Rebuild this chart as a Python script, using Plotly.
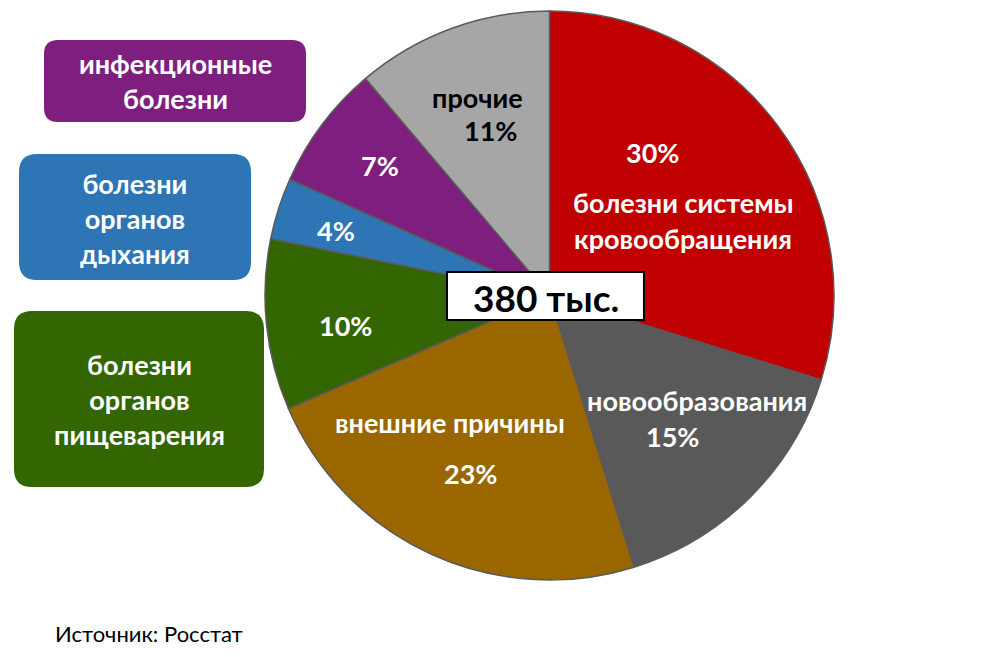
import plotly.graph_objects as go

# структура смертности
categories = ['болезни системы кровообращения', 'новообразования', 'внешние причины',
              'болезни органов пищеварения', 'болезни органов дыхания',
              'инфекционные болезни', 'прочие']
shares = [29.8, 15.4, 23.3, 9.7, 3.5, 7.1, 11.2]
pct = ['30%', '15%', '23%', '10%', '4%', '7%', '11%']
colors = ['#C00000', '#595959', '#996600', '#336600', '#2E75B6', '#7E1E7E', '#A6A6A6']
total_label = '380 тыс.'
source = 'Источник: Росстат'

W, H = 1004, 657
OFF = 8  # отступ body страницы


def px(x):
    return (x - OFF) / W


def py(y):
    return 1 - (y - OFF) / H


def rounded_box(x0, y0, x1, y1, r):
    # прямоугольник со скруглёнными углами в координатах paper
    p = [
        f'M {px(x0 + r)} {py(y0)}',
        f'L {px(x1 - r)} {py(y0)}',
        f'Q {px(x1)} {py(y0)} {px(x1)} {py(y0 + r)}',
        f'L {px(x1)} {py(y1 - r)}',
        f'Q {px(x1)} {py(y1)} {px(x1 - r)} {py(y1)}',
        f'L {px(x0 + r)} {py(y1)}',
        f'Q {px(x0)} {py(y1)} {px(x0)} {py(y1 - r)}',
        f'L {px(x0)} {py(y0 + r)}',
        f'Q {px(x0)} {py(y0)} {px(x0 + r)} {py(y0)}',
        'Z',
    ]
    return ' '.join(p)


fig = go.Figure()

fig.add_trace(go.Pie(
    labels=categories, values=shares, sort=False, direction='clockwise', rotation=0,
    marker=dict(colors=colors, line=dict(color='#5a5a5a', width=1.5)),
    textinfo='none', hoverinfo='label+percent', showlegend=False,
    domain=dict(x=[px(265), px(834)], y=[py(580), py(11)]),
))

FONT = 'Lato'
FS = 27
ann = []


def label(x, y, text, color='white', size=FS, bold=True):
    ann.append(dict(x=px(x), y=py(y), xref='paper', yref='paper', showarrow=False,
                    text=f'<b>{text}</b>' if bold else text,
                    font=dict(family=FONT, size=size, color=color),
                    xanchor='center', yanchor='middle'))


label(652, 152, pct[0])
label(683, 203, 'болезни системы')
label(683, 238, 'кровообращения')
label(697, 400, categories[1])
label(672, 436, pct[1])
label(450, 422, categories[2])
label(470, 473, pct[2])
label(345, 325, pct[3])
label(336, 230, pct[4])
label(380, 165, pct[5])
label(477, 97, categories[6], color='black')
label(490, 131, pct[6], color='black')

# подписи малых секторов в боковых плашках
boxes = [
    (44, 40, 306, 122, 5, 'инфекционные<br>болезни', (175, 81)),
    (19, 154, 251, 280, 4, 'болезни<br>органов<br>дыхания', (135, 218)),
    (14, 311, 264, 487, 3, 'болезни<br>органов<br>пищеварения', (139, 399)),
]
shapes = []
for x0, y0, x1, y1, ci, txt, (tx, ty) in boxes:
    r = 14 if y1 - y0 < 100 else 18
    shapes.append(dict(type='path', xref='paper', yref='paper',
                       path=rounded_box(x0, y0, x1, y1, r),
                       fillcolor=colors[ci], line=dict(width=0), layer='above'))
    ann.append(dict(x=px(tx), y=py(ty), xref='paper', yref='paper', showarrow=False,
                    text=f'<b>{txt}</b>', align='center',
                    font=dict(family=FONT, size=FS, color='white'),
                    xanchor='center', yanchor='middle'))

# итог в центре
shapes.append(dict(type='rect', xref='paper', yref='paper',
                   x0=px(447), x1=px(644), y0=py(320), y1=py(272),
                   fillcolor='white', line=dict(color='black', width=2), layer='above'))
label(546, 297, total_label, color='black', size=37)

ann.append(dict(x=px(53), y=py(633), xref='paper', yref='paper', showarrow=False,
                text=source, font=dict(family=FONT, size=22, color='black'),
                xanchor='left', yanchor='middle'))

fig.update_layout(
    width=W, height=H,
    margin=dict(l=0, r=0, t=0, b=0),
    paper_bgcolor='white', plot_bgcolor='white',
    shapes=shapes, annotations=ann,
)

fig.write_html('out.html')
